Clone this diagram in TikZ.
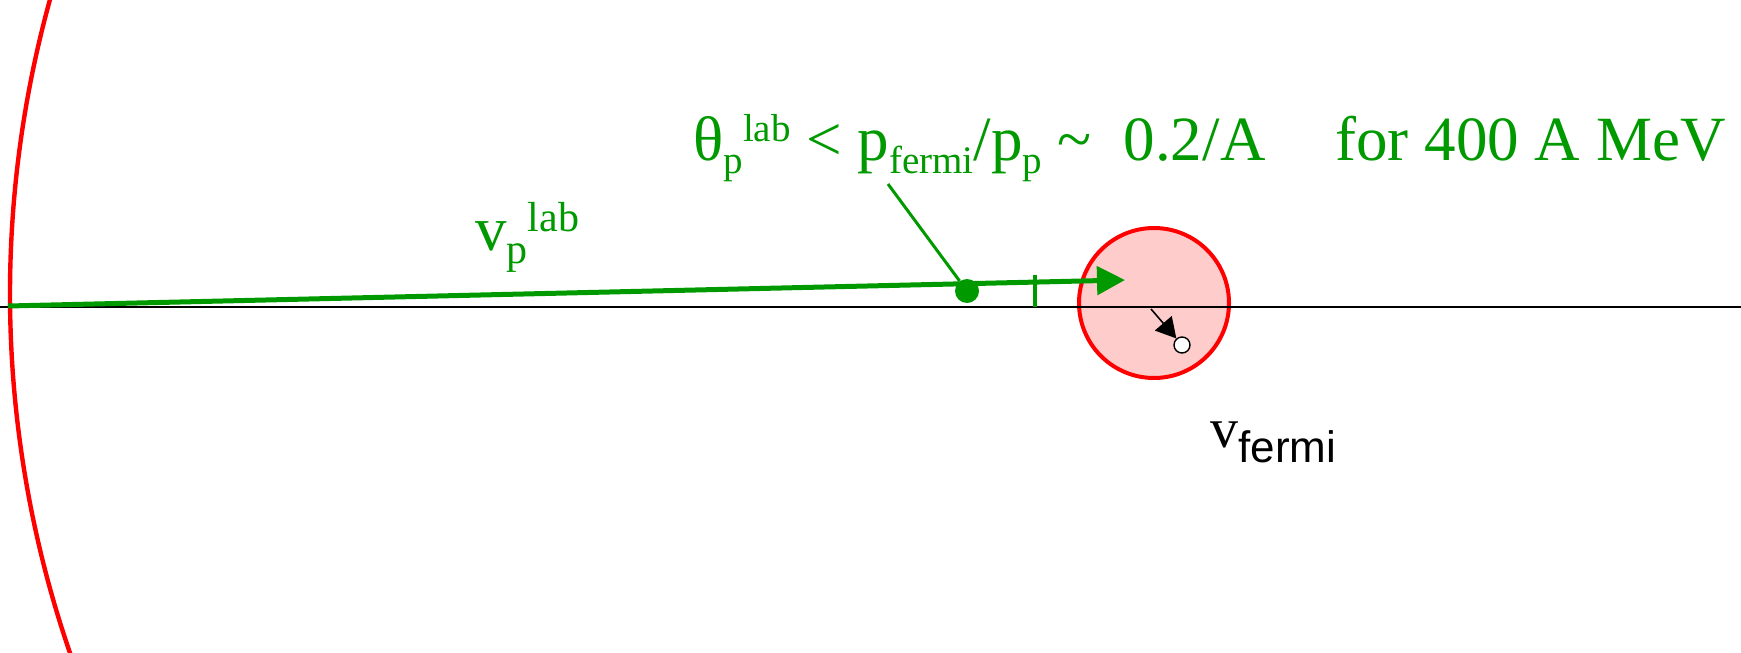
\documentclass[tikz,border=0pt]{standalone}
\usepackage{fontspec}
\setmainfont{Liberation Serif}
\newfontfamily\arialf{Liberation Sans}
\usetikzlibrary{arrows.meta}
\definecolor{pgreen}{RGB}{0,153,0}
\definecolor{fermipink}{RGB}{255,204,204}
\newcommand\scr[1]{{\fontsize{21}{21}\selectfont #1}}
\newcommand\dn[1]{\raisebox{-6.5pt}{\scr{#1}}}
\newcommand\up[1]{\raisebox{9.5pt}{\scr{#1}}}
\newcommand\scrf[1]{{\fontsize{19.5}{20}\selectfont #1}}
\newcommand\dnf[1]{\raisebox{-6.5pt}{\scrf{#1}}}
\newcommand\upf[1]{\raisebox{9.5pt}{\scrf{#1}}}
\begin{document}
\begin{tikzpicture}[x=0.5pt,y=-0.5pt,
  lbl/.style={anchor=base west, inner sep=0pt, font=\fontsize{31.5}{36}\selectfont},
  gline/.style={pgreen, line width=2.5pt},
  redline/.style={red, line width=2.2pt}]
\useasboundingbox (0,0) rectangle (1741,653);
\clip (0,0) rectangle (1741,653);
% big red arc
\draw[redline] (1114,294) ++(158:1104) arc[start angle=158, end angle=198, radius=1104];
% fermi sphere
\node[circle, draw=red, fill=fermipink, line width=2pt, minimum size=75pt, inner sep=0pt] (sphere) at (1154,303) {};
% beam axis
\coordinate (axL) at (0,306.5);
\coordinate (axR) at (1741,306.5);
\draw[black, line width=1pt] (axL) -- (axR);
% green velocity vector
\coordinate (O) at (8,306);
\coordinate (tip) at (1125,280);
\draw[gline, -{Triangle[length=14pt,width=14pt]}] (O) -- (tip);
% tick
\coordinate (tickT) at (1035,275);
\coordinate (tickB) at (1035,307);
\draw[pgreen, line width=2pt] (tickT) -- (tickB);
% dot and leader
\node[circle, fill=pgreen, minimum size=12pt, inner sep=0pt] (dot) at (967,291) {};
\coordinate (lead) at (888,184);
\draw[pgreen, line width=1.5pt] (lead) -- (dot);
% fermi motion arrow
\coordinate (fs) at (1151,309);
\node[circle, draw=black, fill=white, line width=0.7pt, minimum size=8pt, inner sep=0pt] (hole) at (1182,345) {};
\draw[black, line width=0.8pt, -{Triangle[length=10pt,width=11pt]}] (fs) -- (hole);
% texts
\node[lbl, pgreen] (theta) at (693,160) {θ\dnf{p}\upf{lab} < p\dnf{fermi}/p\dnf{p} \textasciitilde\hspace{8pt} 0.2/A};
\node[lbl, pgreen] (mev) at (1335,160) {for 400 A MeV};
\node[lbl, pgreen] (vp) at (475,250) {v\dn{p}\up{lab}};
\node[anchor=base west, inner sep=0pt] (vf) at (1210,447) {\fontsize{28}{30}\selectfont v\raisebox{-7.5pt}{\arialf\fontsize{22}{24}\selectfont fermi}};
\end{tikzpicture}
\end{document}
